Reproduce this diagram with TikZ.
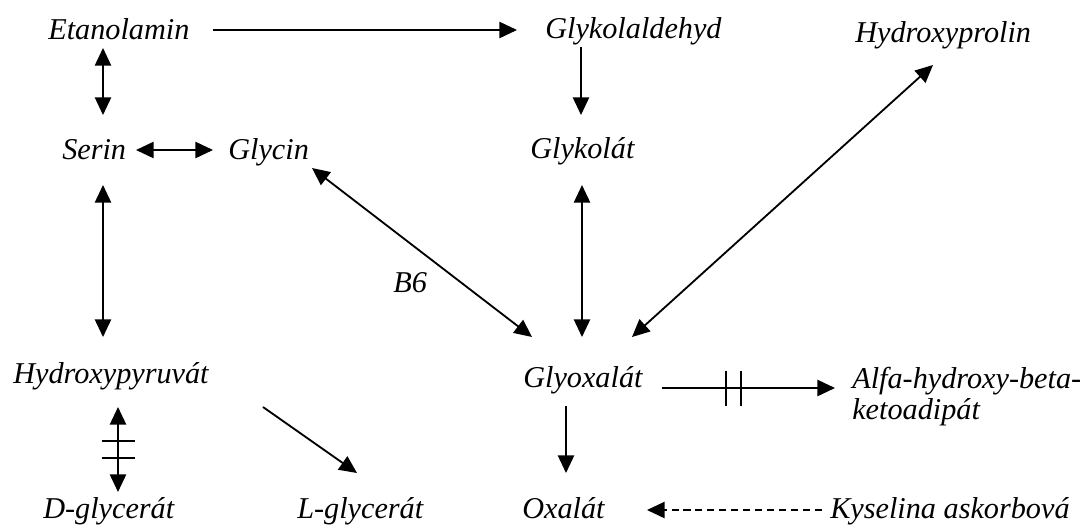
\documentclass[tikz,border=0pt]{standalone}
\usepackage{fontspec}
\setmainfont{Liberation Serif}
\usetikzlibrary{arrows.meta,calc}
\begin{document}
\begin{tikzpicture}[x=0.025cm,y=-0.025cm,
  lbl/.style={inner sep=0pt, font=\itshape\fontsize{21.5}{22}\selectfont, anchor=base west},
  ln/.style={line width=1.3pt},
  arr/.style={ln,-{Triangle[length=12.5pt,width=11.5pt]}},
  darr/.style={ln,{Triangle[length=12.5pt,width=11.5pt]}-{Triangle[length=12.5pt,width=11.5pt]}},
  barline/.style={line width=1.1pt},
  dashline/.style={dash pattern=on 5pt off 3.5pt}]
\fill[white] (0,0) rectangle (1084,527);
\useasboundingbox (0,0) rectangle (1084,527);
% nodes
\node[lbl] (eta) at (48,39) {Etanolamin};
\node[lbl] (glyald) at (545,38) {Glykolaldehyd};
\node[lbl] (hyp) at (855,42) {Hydroxyprolin};
\node[lbl] (serin) at (62,159) {Serin};
\node[lbl] (glycin) at (228,159) {Glycin};
\node[lbl] (glykolat) at (530,158) {Glykolát};
\node[lbl] (b6) at (393,292) {B6};
\node[lbl] (hpyr) at (13,383) {Hydroxypyruvát};
\node[lbl] (glyox) at (523,387) {Glyoxalát};
\node[lbl, anchor=north west, align=left] (alfa) at (852,367) {Alfa-hydroxy-beta-\\ketoadipát};
\node[lbl] (dgly) at (43,518) {D-glycerát};
\node[lbl] (lgly) at (297,518) {L-glycerát};
\node[lbl] (oxalat) at (522,518) {Oxalát};
\node[lbl] (kys) at (830,518) {Kyselina askorbová};
% connectors
\draw[arr] ($(eta.base west)+(165,-9)$) -- ($(glyald.base west)+(-28,-8)$);
\draw[darr] ($(eta.base west)+(55,9)$) -- ($(serin.base west)+(41,-44)$);
\draw[darr] ($(serin.base west)+(74,-9)$) -- ($(glycin.base west)+(-15,-9)$);
\draw[arr] ($(glyald.base west)+(36,9)$) -- ($(glykolat.base west)+(51,-43)$);
\draw[darr] ($(serin.base west)+(41,26)$) -- ($(hpyr.base west)+(90,-46)$);
\draw[darr] ($(glycin.base west)+(84,9)$) -- ($(glyox.base west)+(9,-50)$);
\draw[darr] ($(glykolat.base west)+(52,27)$) -- ($(glyox.base west)+(59,-50)$);
\draw[darr] ($(hyp.base west)+(78,23)$) -- ($(glyox.base west)+(109,-50)$);
\draw[arr] ($(glyox.base west)+(139,1)$) -- coordinate[pos=0.37] (gb1) coordinate[pos=0.457] (gb2) ($(alfa.north west)+(-17,21)$);
\draw[barline] ($(gb1)+(0,-17.5)$) -- ($(gb1)+(0,17.5)$);
\draw[barline] ($(gb2)+(0,-17.5)$) -- ($(gb2)+(0,17.5)$);
\draw[darr] ($(hpyr.base west)+(105,24)$) -- coordinate[pos=0.4] (hb1) coordinate[pos=0.6] (hb2) ($(dgly.base west)+(75,-26)$);
\draw[barline] ($(hb1)+(-16.5,0)$) -- ($(hb1)+(16.5,0)$);
\draw[barline] ($(hb2)+(-16.5,0)$) -- ($(hb2)+(16.5,0)$);
\draw[arr] ($(hpyr.base west)+(250,24)$) -- ($(lgly.base west)+(60,-45)$);
\draw[arr] ($(glyox.base west)+(43,19)$) -- ($(oxalat.base west)+(44,-45)$);
\draw[arr, dashline] ($(kys.base west)+(-8,-8)$) -- ($(oxalat.base west)+(125,-8)$);
\end{tikzpicture}
\end{document}
